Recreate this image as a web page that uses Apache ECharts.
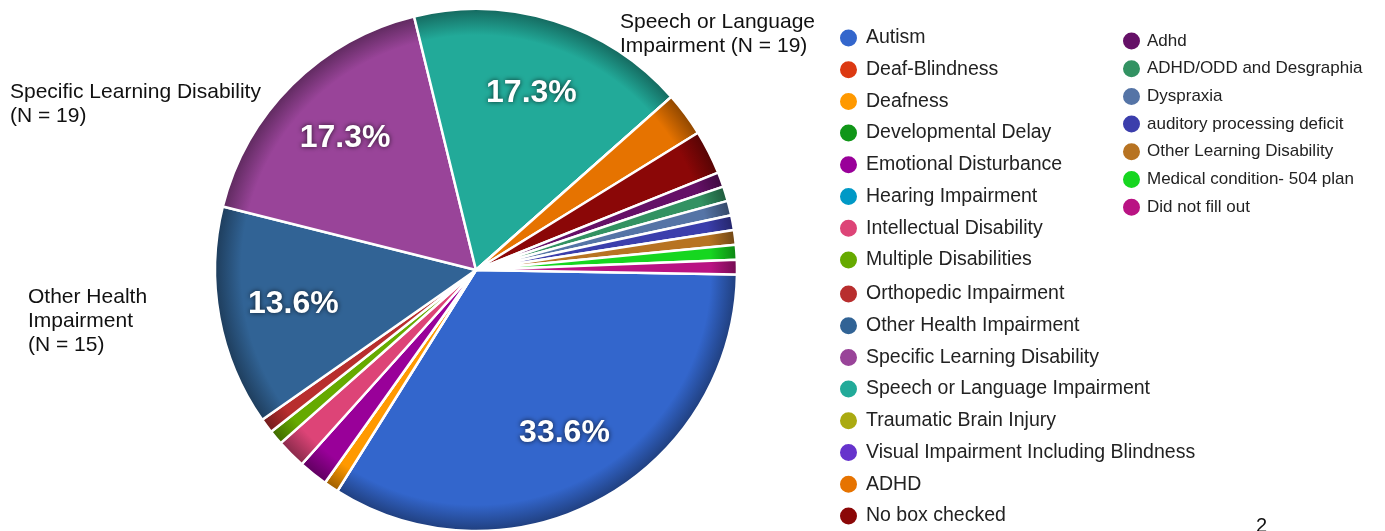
<!DOCTYPE html>
<html>
<head>
<meta charset="utf-8">
<script src="https://cdn.jsdelivr.net/npm/echarts@6/dist/echarts.min.js"></script>
<style>
  html, body { margin: 0; padding: 0; background: #fff; }
  #main { width: 1385px; height: 531px; }
</style>
</head>
<body>
<div id="main"></div>
<script>
// categories in legend order, counts (total N = 110)
const categories = [
  'Autism', 'Deaf-Blindness', 'Deafness', 'Developmental Delay', 'Emotional Disturbance',
  'Hearing Impairment', 'Intellectual Disability', 'Multiple Disabilities',
  'Orthopedic Impairment', 'Other Health Impairment', 'Specific Learning Disability',
  'Speech or Language Impairment', 'Traumatic Brain Injury', 'Visual Impairment Including Blindness',
  'ADHD', 'No box checked',
  'Adhd', 'ADHD/ODD and Desgraphia', 'Dyspraxia', 'auditory processing deficit',
  'Other Learning Disability', 'Medical condition- 504 plan', 'Did not fill out'
];
const counts = [37, 0, 1, 0, 2, 0, 2, 1, 1, 15, 19, 19, 0, 0, 3, 3, 1, 1, 1, 1, 1, 1, 1];
const colors = [
  '#3366CC', '#DC3912', '#FF9900', '#109618', '#990099', '#0099C6', '#DD4477', '#66AA00',
  '#B82E2E', '#316395', '#994499', '#22AA99', '#AAAA11', '#6633CC', '#E67300', '#8B0707',
  '#651067', '#329262', '#5574A6', '#3B3EAC', '#B77322', '#16D620', '#B91383'
];

// text notes placed next to the pie
const notes = [
  { text: 'Speech or Language\nImpairment (N = 19)', x: 620, y: 10 },
  { text: 'Specific Learning Disability\n(N = 19)', x: 10, y: 80 },
  { text: 'Other Health\nImpairment\n(N = 15)', x: 28, y: 285 }
];

const total = counts.reduce((a, b) => a + b, 0);
const pieCenter = [476, 270];
const pieRadius = 261;

function darken(hex, k) {
  const n = parseInt(hex.slice(1), 16);
  const r = Math.round(((n >> 16) & 255) * k);
  const g = Math.round(((n >> 8) & 255) * k);
  const b = Math.round((n & 255) * k);
  return `rgb(${r},${g},${b})`;
}

const pieData = categories.map((name, i) => ({
  name,
  value: counts[i],
  itemStyle: {
    color: {
      type: 'radial', x: pieCenter[0], y: pieCenter[1], r: pieRadius, global: true,
      colorStops: [
        { offset: 0, color: colors[i] },
        { offset: 0.9, color: colors[i] },
        { offset: 1, color: darken(colors[i], 0.62) }
      ]
    }
  }
}));

const legendItems = categories.map((name, i) => ({ name, itemStyle: { color: colors[i] } }));

const chart = echarts.init(document.getElementById('main'));
const fontFamily = '"Liberation Sans", Arial, sans-serif';

const legendBase = {
  orient: 'vertical',
  icon: 'circle',
  padding: 0,
  height: 600,
  selectedMode: false,
  itemWidth: 19,
  itemHeight: 19,
  textStyle: { color: '#222', fontFamily, fontSize: 19.5, padding: [1, 0, 0, 3] }
};

chart.setOption({
  animation: false,
  color: colors,
  legend: [
    { ...legendBase, data: legendItems.slice(0, 8), left: 838, top: 27.5, itemGap: 10.7 },
    { ...legendBase, data: legendItems.slice(8, 16), left: 838, top: 283.5, itemGap: 10.7 },
    {
      ...legendBase, data: legendItems.slice(16), left: 1121, top: 30.5, itemGap: 6.7,
      textStyle: { ...legendBase.textStyle, fontSize: 17, padding: [1, 0, 0, 1] }
    }
  ],
  series: [
    {
      type: 'pie',
      center: pieCenter,
      radius: pieRadius,
      startAngle: -1,
      clockwise: true,
      silent: true,
      itemStyle: { borderColor: '#fff', borderWidth: 2.5 },
      label: { show: false },
      labelLine: { show: false },
      emphasis: { disabled: true },
      data: pieData
    },
    {
      // label layer: percentages sit at ~70% of the radius like the original
      type: 'pie',
      center: pieCenter,
      radius: pieRadius * 1.4,
      startAngle: -1,
      clockwise: true,
      silent: true,
      itemStyle: { color: 'rgba(0,0,0,0)', borderWidth: 0 },
      label: {
        show: true,
        position: 'inside',
        formatter: p => {
          const pct = p.value / total * 100;
          return pct > 10 ? pct.toFixed(1) + '%' : '';
        },
        color: '#fff',
        fontFamily,
        fontWeight: 'bold',
        fontSize: 32,
        textShadowColor: 'rgba(0,0,0,0.75)',
        textShadowBlur: 5
      },
      labelLine: { show: false },
      emphasis: { disabled: true },
      data: categories.map((name, i) => ({ name, value: counts[i] }))
    }
  ],
  graphic: [
    ...notes.map(n => ({
      type: 'text', left: n.x, top: n.y, silent: true,
      style: { text: n.text, fill: '#111', font: `21px ${fontFamily}`, lineHeight: 24 }
    })),
    {
      type: 'text', left: 462, top: 346, silent: true,
      style: { text: 'Autism (N=37)', fill: '#fff', font: `25px ${fontFamily}` }
    },
    {
      type: 'text', left: 1256, top: 516, silent: true,
      style: { text: '2', fill: '#111', font: `20px ${fontFamily}` }
    }
  ]
});
</script>
</body>
</html>
